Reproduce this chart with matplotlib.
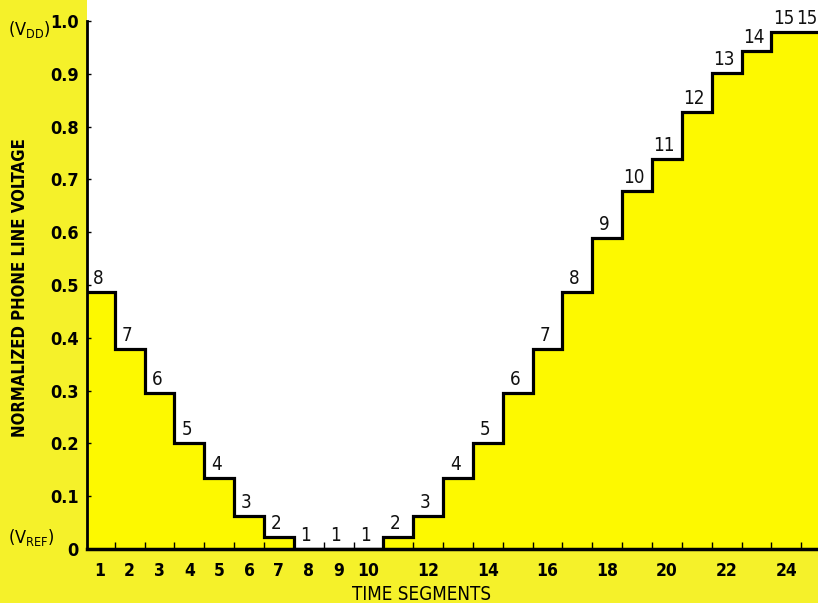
import numpy as np
import matplotlib.pyplot as plt

# quantizer levels seen in each time segment
segments = np.arange(1, 26)
levels = [8, 7, 6, 5, 4, 3, 2, 1, 1, 1, 2, 3, 4, 5, 6, 7, 8, 9, 10, 11, 12, 13, 14, 15, 15]

# normalized line voltage for levels 1..15
level_voltage = [0.0, 0.022, 0.063, 0.135, 0.200, 0.295, 0.378, 0.487,
                 0.589, 0.678, 0.739, 0.828, 0.902, 0.943, 0.979]

xtick_pos = [1, 2, 3, 4, 5, 6, 7, 8, 9, 10, 12, 14, 16, 18, 20, 22, 24]
ytick_pos = [0, 0.1, 0.2, 0.3, 0.4, 0.5, 0.6, 0.7, 0.8, 0.9, 1.0]
ytick_labels = ['0', '0.1', '0.2', '0.3', '0.4', '0.5', '0.6', '0.7', '0.8', '0.9', '1.0']

page = '#F5F12A'
fill = '#FDF900'
plt.rcParams['font.family'] = 'DejaVu Sans'
plt.rcParams['font.stretch'] = 'condensed'
plt.rcParams['mathtext.fontset'] = 'custom'
plt.rcParams['mathtext.rm'] = 'DejaVu Sans:stretch=condensed'

voltage = [level_voltage[lv - 1] for lv in levels]
edges = np.append(segments - 0.5, segments[-1] + 0.5)
x_lo, x_hi = 0.57, 25.06

fig = plt.figure(figsize=(8.18, 6.03), dpi=100, facecolor=page)
ax = fig.add_axes([87 / 818, 54 / 603, 1 - 87 / 818, 549 / 603])
ax.set_facecolor('white')

# yellow area under the staircase, then its black outline
ax.stairs(voltage, edges, fill=True, color=fill, zorder=1)
ax.stairs(voltage, edges, baseline=None, color='black', lw=2.3, zorder=3)

# level number over the visible part of each step
for i, (v, lv) in enumerate(zip(voltage, levels)):
    xc = (max(edges[i], x_lo) + min(edges[i + 1], x_hi)) / 2
    ax.annotate(str(lv), (xc, v), xytext=(-2, 3), textcoords='offset points',
                ha='center', va='bottom', fontsize=13.5, color='#111111')

ax.set_xlim(x_lo, x_hi)
ax.set_ylim(0, 1.04)

for s in ['top', 'right']:
    ax.spines[s].set_visible(False)
ax.spines['left'].set_bounds(0, 1.0)
ax.spines['left'].set_linewidth(2)
ax.spines['bottom'].set_linewidth(2.5)
ax.spines['left'].set_zorder(4)
ax.spines['bottom'].set_zorder(4)

ax.set_yticks(ytick_pos)
ax.set_yticklabels(ytick_labels, fontweight='bold')
ax.tick_params(axis='y', direction='in', length=3, width=1, pad=6, labelsize=13)

ax.set_xticks(xtick_pos)
ax.set_xticklabels([str(t) for t in xtick_pos], fontweight='bold')
ax.set_xticks(np.arange(1.5, 25, 1.0), minor=True)
ax.tick_params(axis='x', which='major', length=0, pad=9, labelsize=12.5)
ax.tick_params(axis='x', which='minor', direction='in', length=5, width=1)

fig.text(20 / 818, 1 - 288 / 603, 'NORMALIZED PHONE LINE VOLTAGE', rotation=90,
         ha='center', va='center', fontsize=12, fontweight='bold')
fig.text(422 / 818, 1 - 595 / 603, 'TIME SEGMENTS', ha='center', va='center', fontsize=13.5)
fig.text(8 / 818, 1 - 30 / 603, r'(V$_{\mathregular{DD}}$)', ha='left', va='center', fontsize=13)
fig.text(8 / 818, 1 - 538 / 603, r'(V$_{\mathregular{REF}}$)', ha='left', va='center', fontsize=13)

fig.savefig('out.png', dpi=100, facecolor=page)
